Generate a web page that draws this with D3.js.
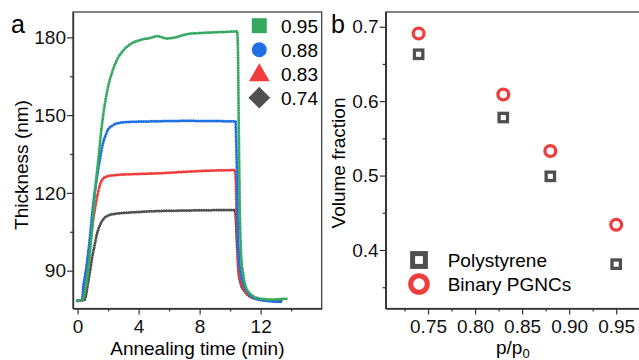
<!DOCTYPE html>
<html>
<head>
<meta charset="utf-8">
<script src="https://cdn.jsdelivr.net/npm/d3@7/dist/d3.min.js"></script>
<style>
	body { margin: 0; background: #fff; }
	svg { font-family: "Liberation Sans", Arial, sans-serif; }
</style>
</head>
<body>
<div class="chart"></div>
<script>
// panel a: thickness (nm) vs annealing time (min), one array per p/p0
const thick095 = [[0, 78.4], [0.35, 78.8], [0.45, 81], [0.63, 87], [0.8, 96.5], [0.98, 108], [1.13, 119.5], [1.35, 132.5], [1.57, 145], [1.79, 154.5], [2.0, 161], [2.23, 166], [2.55, 171], [3.0, 175], [3.54, 177.7], [4.08, 179], [4.74, 179.8], [5.2, 180.5], [5.9, 179.6], [6.5, 180.2], [7.1, 181.2], [8.0, 181.7], [9.1, 182], [10.2, 182.3], [10.45, 182.4], [10.5, 178], [10.56, 148.5], [10.61, 122.7], [10.65, 108], [10.69, 100.6], [10.74, 94.1], [10.85, 89], [10.96, 85.1], [11.28, 81.3], [11.83, 79.4], [12.7, 78.9], [13.69, 79.2]]
const thick088 = [[0, 78.4], [0.3, 78.8], [0.37, 83.7], [0.48, 87.5], [0.59, 91.5], [0.7, 97], [0.81, 103], [0.98, 113.3], [1.1, 119.5], [1.24, 125], [1.46, 133], [1.68, 139.5], [1.85, 142.5], [2.0, 144.5], [2.3, 146], [2.55, 146.8], [3.43, 147.4], [4.74, 147.6], [7.0, 147.8], [10.35, 147.6], [10.41, 136.8], [10.48, 115.7], [10.5, 108.3], [10.52, 101.2], [10.55, 98], [10.59, 94.1], [10.7, 89], [10.96, 83.8], [11.39, 80], [12.26, 78.4], [13.35, 78]]
const thick083 = [[0, 78.4], [0.3, 78.6], [0.4, 83], [0.48, 87], [0.59, 91.5], [0.81, 100.5], [1.02, 109.5], [1.24, 117.2], [1.46, 123], [1.68, 125.6], [2.0, 126.5], [2.55, 126.9], [3.86, 127.3], [5.4, 127.6], [7.1, 128.2], [10.3, 128.8], [10.37, 125], [10.43, 110.2], [10.48, 101.8], [10.52, 96.7], [10.55, 91.5], [10.63, 87.7], [10.85, 83.8], [11.17, 80.6], [11.83, 79], [13.14, 78.3]]
const thick074 = [[0, 78.4], [0.45, 78.8], [0.55, 80.5], [0.65, 84], [0.75, 87.5], [0.85, 91], [0.95, 95], [1.07, 98.5], [1.24, 103.5], [1.46, 107.5], [1.68, 109.8], [2.0, 111.3], [2.55, 112], [3.86, 112.6], [4.74, 112.9], [7.0, 113.2], [10.3, 113.4], [10.37, 110.2], [10.43, 101.8], [10.48, 96.7], [10.52, 91.5], [10.63, 86.4], [10.96, 81.9], [11.61, 79.4], [12.92, 78.4], [13.36, 78.3]]
const seriesNames = ["0.95", "0.88", "0.83", "0.74"]
const timeTicks = [0, 4, 8, 12]
const thickTicks = [90, 120, 150, 180]

// panel b: volume fraction vs p/p0
const ratios = [0.74, 0.83, 0.88, 0.95]
const polystyrene = [0.663, 0.578, 0.499, 0.381]
const binaryPGNCs = [0.691, 0.609, 0.533, 0.434]
const ratioTicks = [0.75, 0.80, 0.85, 0.90, 0.95]
const fractionTicks = [0.4, 0.5, 0.6, 0.7]

const colors = ["#35a862", "#1e6fe3", "#f03c3c", "#4f4f4f"]

function draw() {
	let width = 639
	let height = 360

	var svg = d3.select(".chart")
		.append("svg")
		.attr("width", width)
		.attr("height", height)

	// ---------- panel a ----------
	let xa = d3.scaleLinear().domain([-0.3, 16]).range([73, 321.7])
	let ya = d3.scaleLinear().domain([75.4, 189.8]).range([308.5, 12])

	let ga = svg.append("g")

	// data as dotted paths
	let line = d3.line()
		.x(d => xa(d[0]))
		.y(d => ya(d[1]))
		.curve(d3.curveMonotoneX)
	let all = [thick074, thick083, thick088, thick095]
	let allColors = [colors[3], colors[2], colors[1], colors[0]]
	all.forEach(function (s, i) {
		ga.append("path")
			.attr("d", line(s))
			.attr("fill", "none")
			.attr("stroke", allColors[i])
			.attr("stroke-width", 3)
			.attr("stroke-linecap", "round")
			.attr("stroke-dasharray", "0 2.5")
	})

	// frame
	ga.append("rect")
		.attr("x", 73).attr("y", 12)
		.attr("width", 321.7 - 73).attr("height", 308.5 - 12)
		.attr("fill", "none")
		.attr("stroke", "#333")
		.attr("stroke-width", 1.2)

	let xAxisA = ga.append("g")
		.attr("transform", "translate(0,308.5)")
		.call(d3.axisBottom(xa).tickValues(timeTicks).tickFormat(d3.format("d")).tickSize(6).tickPadding(5).tickSizeOuter(0))
	xAxisA.append("g")
		.call(d3.axisBottom(xa).tickValues([2, 6, 10, 14]).tickFormat("").tickSize(3).tickSizeOuter(0))

	let yAxisA = ga.append("g")
		.attr("transform", "translate(73,0)")
		.call(d3.axisLeft(ya).tickValues(thickTicks).tickSize(6).tickPadding(1).tickSizeOuter(0))
	yAxisA.append("g")
		.call(d3.axisLeft(ya).tickValues([105, 135, 165]).tickFormat("").tickSize(3).tickSizeOuter(0))

	ga.append("text")
		.attr("x", (73 + 321.7) / 2).attr("y", 355)
		.attr("text-anchor", "middle")
		.style("font-size", "19px")
		.text("Annealing time (min)")
	ga.append("text")
		.attr("transform", "translate(28,165) rotate(-90)")
		.attr("text-anchor", "middle")
		.style("font-size", "19px")
		.text("Thickness (nm)")
	ga.append("text")
		.attr("x", 11).attr("y", 33.3)
		.style("font-size", "25px")
		.text("a")

	// legend a
	let symA = [
		d3.symbol().type(d3.symbolSquare).size(225)(),
		d3.symbol().type(d3.symbolCircle).size(177)(),
		d3.symbol().type(d3.symbolTriangle).size(185)(),
		d3.symbol().type(d3.symbolSquare).size(235)()
	]
	seriesNames.forEach(function (name, i) {
		let cy = 25.7 + i * 24
		ga.append("path")
			.attr("d", symA[i])
			.attr("transform", i == 3 ? `translate(259.3,${cy}) rotate(45)` : `translate(259.3,${cy + (i == 2 ? 1.5 : 0)})`)
			.attr("fill", colors[i])
		ga.append("text")
			.attr("x", 281).attr("y", cy + 7.2)
			.style("font-size", "19px")
			.text(name)
	})

	// ---------- panel b ----------
	let xb = d3.scaleLinear().domain([0.705, 0.98]).range([385.7, 644.4])
	let yb = d3.scaleLinear().domain([0.3214, 0.7198]).range([308.5, 12])

	let gb = svg.append("g")

	gb.append("rect")
		.attr("x", 385.7).attr("y", 12)
		.attr("width", 644.4 - 385.7).attr("height", 308.5 - 12)
		.attr("fill", "none")
		.attr("stroke", "#333")
		.attr("stroke-width", 1.2)

	let xAxisB = gb.append("g")
		.attr("transform", "translate(0,308.5)")
		.call(d3.axisBottom(xb).tickValues(ratioTicks).tickFormat(d3.format(".2f")).tickSize(6).tickPadding(5.5).tickSizeOuter(0))
	xAxisB.append("g")
		.call(d3.axisBottom(xb).tickValues([0.725, 0.775, 0.825, 0.875, 0.925, 0.975]).tickFormat("").tickSize(3).tickSizeOuter(0))

	let yAxisB = gb.append("g")
		.attr("transform", "translate(385.7,0)")
		.call(d3.axisLeft(yb).tickValues(fractionTicks).tickFormat(d3.format(".1f")).tickSize(6).tickPadding(1).tickSizeOuter(0))
	yAxisB.append("g")
		.call(d3.axisLeft(yb).tickValues([0.35, 0.45, 0.55, 0.65]).tickFormat("").tickSize(3).tickSizeOuter(0))

	gb.selectAll("rect.ps")
		.data(ratios)
		.join("rect")
		.attr("class", "ps")
		.attr("x", (d) => xb(d) - 4.2)
		.attr("y", (d, i) => yb(polystyrene[i]) - 4.2)
		.attr("width", 8.4).attr("height", 8.4)
		.attr("fill", "none")
		.attr("stroke", colors[3])
		.attr("stroke-width", 3.3)

	gb.selectAll("circle.pg")
		.data(ratios)
		.join("circle")
		.attr("class", "pg")
		.attr("cx", (d) => xb(d))
		.attr("cy", (d, i) => yb(binaryPGNCs[i]))
		.attr("r", 5.4)
		.attr("fill", "none")
		.attr("stroke", colors[2])
		.attr("stroke-width", 3.3)

	// legend b
	gb.append("rect")
		.attr("x", 419 - 6.4).attr("y", 260 - 6.4)
		.attr("width", 12.8).attr("height", 12.8)
		.attr("fill", "none")
		.attr("stroke", colors[3])
		.attr("stroke-width", 5)
	gb.append("circle")
		.attr("cx", 419).attr("cy", 284)
		.attr("r", 8.3)
		.attr("fill", "none")
		.attr("stroke", colors[2])
		.attr("stroke-width", 5)
	gb.append("text")
		.attr("x", 447.7).attr("y", 267.3)
		.style("font-size", "19px")
		.text("Polystyrene")
	gb.append("text")
		.attr("x", 447.7).attr("y", 290.5)
		.style("font-size", "19px")
		.text("Binary PGNCs")

	let tb = gb.append("text")
		.attr("x", (385.7 + 640) / 2).attr("y", 354)
		.attr("text-anchor", "middle")
		.style("font-size", "19px")
	tb.append("tspan").text("p/p")
	tb.append("tspan").attr("dy", 4).style("font-size", "13px").text("0")

	gb.append("text")
		.attr("transform", "translate(345,163) rotate(-90)")
		.attr("text-anchor", "middle")
		.style("font-size", "19px")
		.text("Volume fraction")
	gb.append("text")
		.attr("x", 331).attr("y", 33.3)
		.style("font-size", "25px")
		.text("b")

	// axis styling
	svg.selectAll(".tick text")
		.style("font-size", "19px")
		.style("font-family", "\"Liberation Sans\", Arial, sans-serif")
		.attr("fill", "#111")
	svg.selectAll(".tick line").attr("stroke", "#333").attr("stroke-width", 1.2)
	svg.selectAll(".domain").attr("stroke", "#333").attr("stroke-width", 1.2)
}

draw()
</script>
</body>
</html>
